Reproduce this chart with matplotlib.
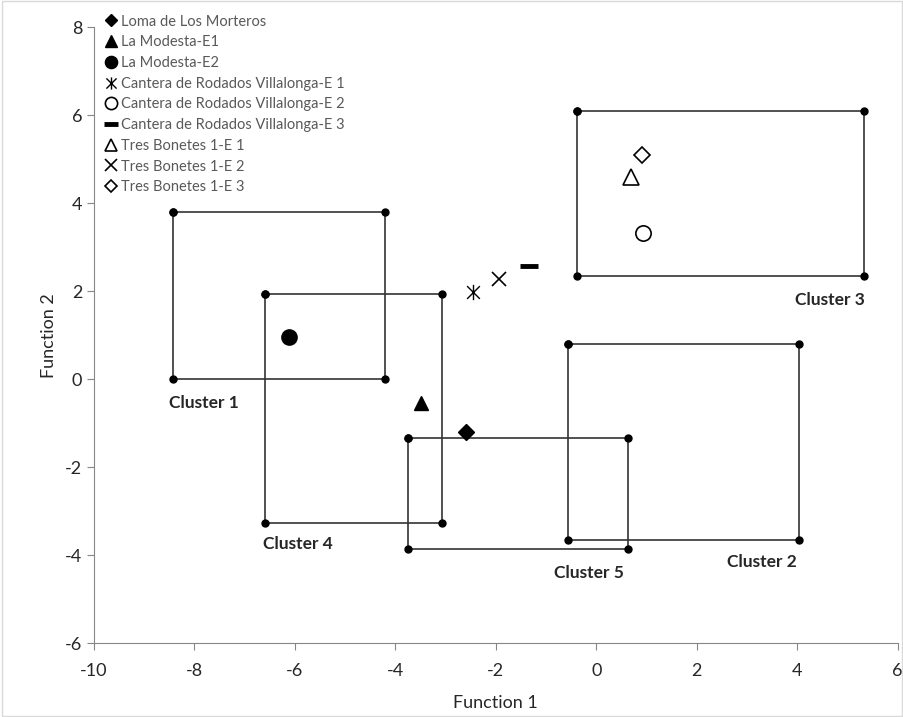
import matplotlib.pyplot as plt
from matplotlib.path import Path
from matplotlib.patches import Rectangle

plt.rcParams['font.family'] = ['Lato', 'DejaVu Sans']
plt.rcParams['axes.unicode_minus'] = False

# sites (discriminant scores)
site_names = ["Loma de Los Morteros", "La Modesta-E1", "La Modesta-E2",
              "Cantera de Rodados Villalonga-E 1", "Cantera de Rodados Villalonga-E 2",
              "Cantera de Rodados Villalonga-E 3", "Tres Bonetes 1-E 1",
              "Tres Bonetes 1-E 2", "Tres Bonetes 1-E 3"]
site_f1 = [-2.60, -3.49, -6.12, -2.46, 0.93, -1.34, 0.69, -1.94, 0.91]
site_f2 = [-1.20, -0.55, 0.95, 1.98, 3.32, 2.57, 4.59, 2.27, 5.09]

# cluster boxes: x range and y range
cluster_names = ["Cluster 1", "Cluster 2", "Cluster 3", "Cluster 4", "Cluster 5"]
cluster_x = [(-8.43, -4.21), (-0.57, 4.03), (-0.39, 5.32), (-6.60, -3.07), (-3.75, 0.63)]
cluster_y = [(0.00, 3.80), (-3.66, 0.79), (2.34, 6.09), (-3.27, 1.93), (-3.87, -1.34)]
label_pos = [(-7.82, -0.55), (3.30, -4.15), (4.65, 1.8), (-5.95, -3.75), (-0.15, -4.4)]

asterisk = Path([(-1, -1), (1, 1), (-1, 1), (1, -1), (0, -1.2), (0, 1.2)],
                [Path.MOVETO, Path.LINETO, Path.MOVETO, Path.LINETO, Path.MOVETO, Path.LINETO])

styles = [
    dict(marker='D', ms=8, mfc='black', mec='black'),
    dict(marker='^', ms=10, mfc='black', mec='black'),
    dict(marker='o', ms=11, mfc='black', mec='black'),
    dict(marker=asterisk, ms=11, mfc='none', mec='black', mew=1.0),
    dict(marker='o', ms=11, mfc='white', mec='black', mew=1.2),
    dict(marker='_', ms=13, mec='black', mew=3.5),
    dict(marker='^', ms=11, mfc='white', mec='black', mew=1.2),
    dict(marker='x', ms=10, mec='black', mew=1.2),
    dict(marker='D', ms=8, mfc='white', mec='black', mew=1.2),
]

fig = plt.figure(figsize=(9.04, 7.17), dpi=100)
ax = fig.add_axes([0.104, 0.103, 0.889, 0.859])

for (x0, x1), (y0, y1), name, (lx, ly) in zip(cluster_x, cluster_y, cluster_names, label_pos):
    ax.plot([x0, x1, x1, x0, x0], [y1, y1, y0, y0, y1], color='#333333', lw=1.2,
            marker='o', ms=5, mfc='black', mec='black', zorder=2)
    ax.text(lx, ly, name, ha='center', va='center', fontsize=12.5,
            fontweight='bold', color='#262626')

for name, x, y, st in zip(site_names, site_f1, site_f2, styles):
    ax.plot([x], [y], ls='none', label=name, zorder=3, **st)

ax.set_xlim(-10, 6)
ax.set_ylim(-6, 8)
ax.set_xticks(range(-10, 7, 2))
ax.set_yticks(range(-6, 9, 2))
for s in ['top', 'right']:
    ax.spines[s].set_visible(False)
for s in ['left', 'bottom']:
    ax.spines[s].set_color('#868686')
ax.tick_params(direction='out', length=5, color='#868686', labelsize=13,
               labelcolor='#262626')
ax.tick_params(axis='x', pad=9)
ax.set_xlabel("Function 1", fontsize=13, color='#262626', labelpad=12)
ax.set_ylabel("Function 2", fontsize=13, color='#262626', labelpad=6)

leg = ax.legend(loc='upper left', bbox_to_anchor=(0.006, 1.03), frameon=False,
                fontsize=10.5, labelspacing=0.46, handlelength=0.8,
                handletextpad=0.3, borderaxespad=0, markerscale=0.8)
for t in leg.get_texts():
    t.set_color('#595959')

fig.patches.append(Rectangle((0.002, 0.002), 0.996, 0.996, transform=fig.transFigure,
                             fill=False, ec='#d9d9d9', lw=1))

fig.savefig('out.png', dpi=100)
